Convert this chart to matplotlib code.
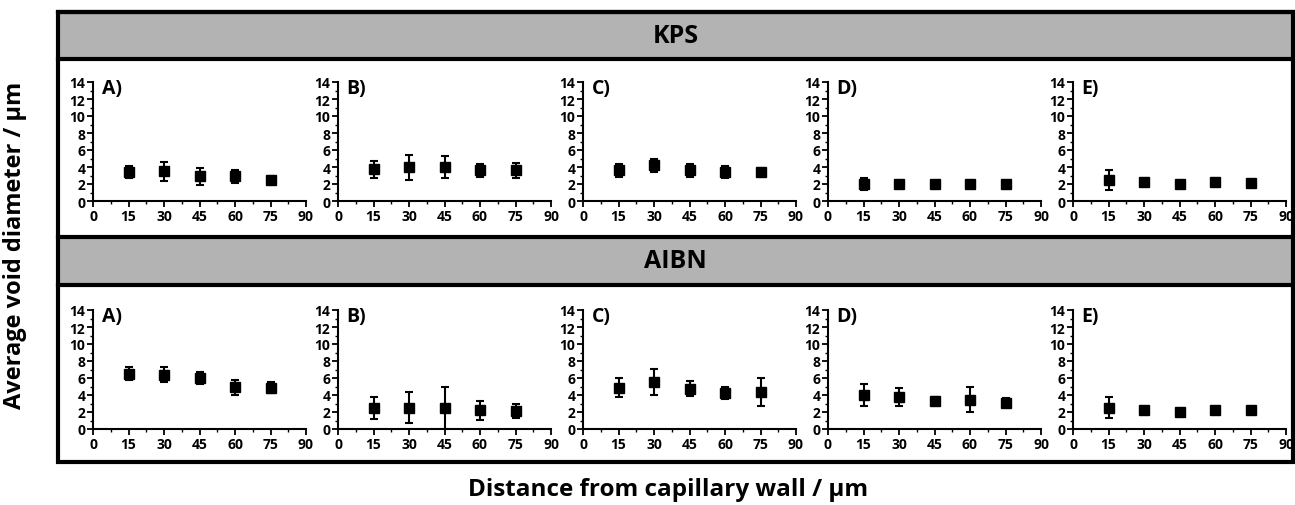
import numpy as np
import matplotlib
matplotlib.use("Agg")
from matplotlib import pyplot as plt
from matplotlib.patches import Rectangle
from matplotlib.lines import Line2D
from matplotlib.ticker import MultipleLocator

plt.rcParams['font.family'] = ['Open Sans', 'DejaVu Sans']
plt.rcParams['font.weight'] = 'bold'

distance = [15, 30, 45, 60, 75]
panel_labels = ['A)', 'B)', 'C)', 'D)', 'E)']
row_titles = ['KPS', 'AIBN']

# KPS row: mean void diameter and error
kps_mean = [
    [3.4, 3.5, 2.9, 2.9, 2.5],
    [3.75, 3.95, 3.95, 3.6, 3.6],
    [3.6, 4.2, 3.6, 3.4, 3.45],
    [2.05, 2.05, 2.0, 2.05, 2.0],
    [2.5, 2.2, 2.0, 2.2, 2.1],
]
kps_err = [
    [0.7, 1.1, 1.0, 0.75, 0.4],
    [1.0, 1.5, 1.3, 0.8, 0.9],
    [0.8, 0.8, 0.8, 0.7, 0.4],
    [0.7, 0.3, 0.2, 0.2, 0.2],
    [1.2, 0.4, 0.2, 0.3, 0.3],
]

# AIBN row
aibn_mean = [
    [6.5, 6.4, 6.0, 4.9, 4.85],
    [2.5, 2.5, 2.45, 2.2, 2.1],
    [4.85, 5.55, 4.75, 4.2, 4.3],
    [4.0, 3.8, 3.35, 3.45, 3.1],
    [2.5, 2.2, 2.05, 2.2, 2.2],
]
aibn_err = [
    [0.75, 0.85, 0.75, 0.85, 0.65],
    [1.3, 1.8, 2.5, 1.15, 0.85],
    [1.1, 1.5, 0.9, 0.7, 1.65],
    [1.25, 1.05, 0.4, 1.5, 0.5],
    [1.25, 0.4, 0.2, 0.3, 0.3],
]

W, H = 1295, 506
fig = plt.figure(figsize=(W / 100, H / 100), dpi=100)


def fx(px):
    return px / W


def fy(py):
    return 1 - py / H


# frame and grey title bands
frame_l, frame_r, frame_t, frame_b = 58, 1293, 13, 463
bands = [(13, 60), (238, 286)]
for (t, b), title in zip(bands, row_titles):
    fig.patches.append(Rectangle((fx(frame_l), fy(b)), fx(frame_r - frame_l), (b - t) / H,
                                 transform=fig.transFigure, facecolor='#b3b3b3',
                                 edgecolor='none', zorder=0))
    fig.text(fx((frame_l + frame_r) / 2), fy((t + b) / 2), title, ha='center', va='center',
             fontsize=18, fontweight='bold')
    for y in (t, b):
        fig.lines.append(Line2D([fx(frame_l), fx(frame_r)], [fy(y), fy(y)],
                                transform=fig.transFigure, color='black', lw=3))
fig.patches.append(Rectangle((fx(frame_l), fy(frame_b)), fx(frame_r - frame_l),
                             (frame_b - frame_t) / H, transform=fig.transFigure,
                             facecolor='none', edgecolor='black', lw=3, zorder=5))

rows = [(83, 202, kps_mean, kps_err), (311, 430, aibn_mean, aibn_err)]
for top, bot, means, errs in rows:
    for i in range(5):
        left = 93 + 245 * i
        ax = fig.add_axes([fx(left), fy(bot), fx(213), (bot - top) / H])
        ax.errorbar(distance, means[i], yerr=errs[i], fmt='s', color='black',
                    markersize=7.5, elinewidth=1.5, capsize=3, capthick=1.5)
        ax.set_xlim(0, 90)
        ax.set_ylim(0, 14)
        ax.xaxis.set_major_locator(MultipleLocator(15))
        ax.xaxis.set_minor_locator(MultipleLocator(7.5))
        ax.yaxis.set_major_locator(MultipleLocator(2))
        ax.yaxis.set_minor_locator(MultipleLocator(1))
        for s in ['top', 'right']:
            ax.spines[s].set_visible(False)
        for s in ['left', 'bottom']:
            ax.spines[s].set_linewidth(1.5)
        ax.tick_params(which='major', direction='out', length=4, width=1.3,
                       labelsize=10, pad=1.5)
        ax.tick_params(which='minor', direction='out', length=2, width=1)
        for lab in ax.get_xticklabels() + ax.get_yticklabels():
            lab.set_fontweight('bold')
        ax.text(0.04, 1.03, panel_labels[i], transform=ax.transAxes, ha='left', va='top',
                fontsize=14, fontweight='bold')
        ax.patch.set_alpha(0)

fig.text(fx(15), fy(245), 'Average void diameter / µm', rotation=90, ha='center',
         va='center', fontsize=17, fontweight='bold')
fig.text(fx(668), fy(490), 'Distance from capillary wall / µm', ha='center', va='center',
         fontsize=17.5, fontweight='bold')

plt.savefig('out.png', dpi=100)
